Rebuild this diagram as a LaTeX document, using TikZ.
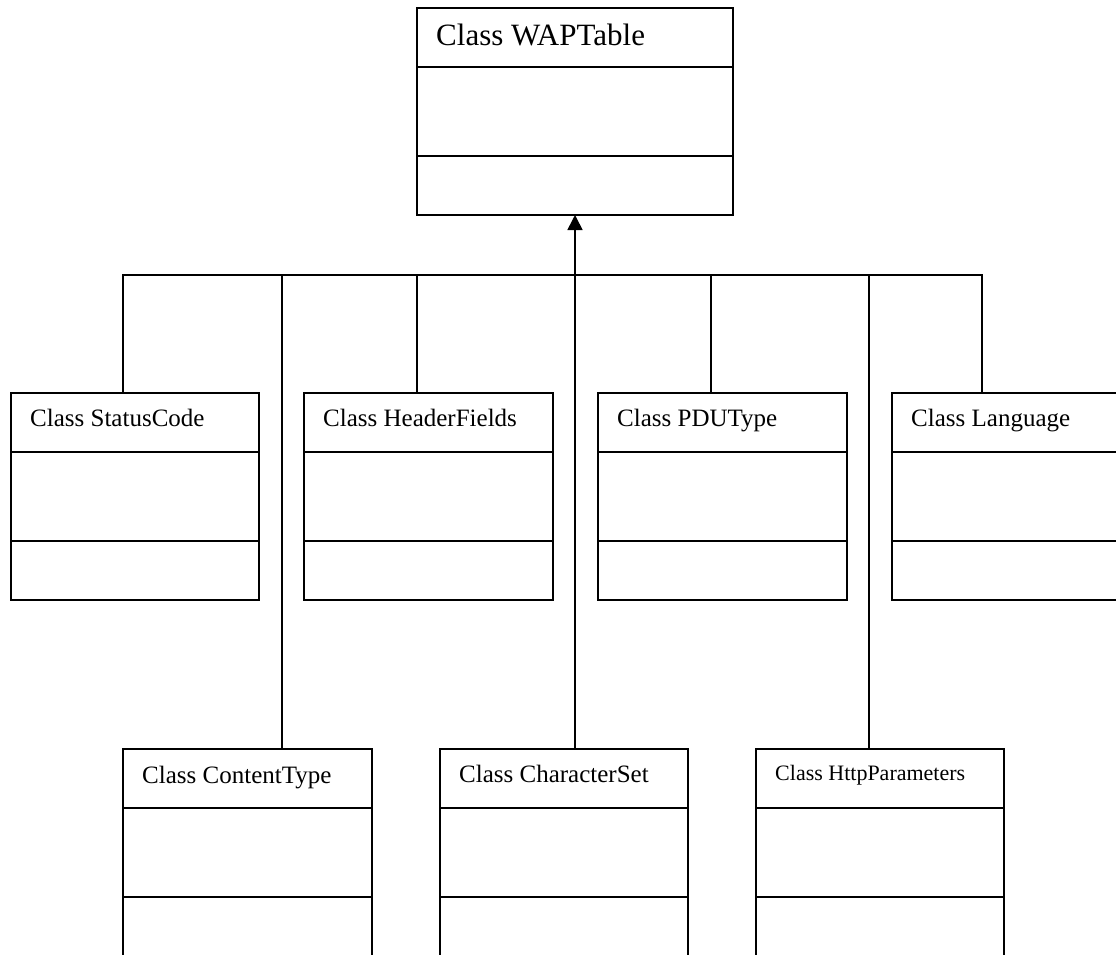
\documentclass[tikz,border=0pt]{standalone}
\usepackage{fontspec}
\setmainfont{Liberation Serif}
\usetikzlibrary{arrows.meta}

% One UML class: name, left x, top y, width, font size, baseline drop, title
\newcommand\classbox[7]{%
  \node[classframe, minimum width=#4pt, anchor=north west] (#1) at (#2,#3) {};
  \draw[frameline] ([yshift=-59pt]#1.north west) -- ([yshift=-59pt]#1.north east);
  \draw[frameline] ([yshift=-148pt]#1.north west) -- ([yshift=-148pt]#1.north east);
  \node[anchor=base west, inner sep=0pt, font=\fontsize{#5}{#5}\selectfont]
    (#1-title) at ([xshift=19pt,yshift=-#6pt]#1.north west) {#7};
}

\begin{document}
\begin{tikzpicture}[x=1pt, y=-1pt,
  frameline/.style={line width=1.6pt, black},
  classframe/.style={draw, frameline, rectangle, inner sep=0pt, outer sep=0pt,
    minimum height=207pt},
  link/.style={line width=1.6pt, black},
  inherit/.style={link, -{Triangle[width=15pt,length=15pt]}}]
  \useasboundingbox (0,0) rectangle (1116,955);
  \clip (0,0) rectangle (1116,955);

  % superclass
  \classbox{wap}{417}{8}{316}{31}{38}{Class WAPTable}

  % first row of subclasses
  \classbox{sc}{11}{393}{248}{25}{33}{Class StatusCode}
  \classbox{hf}{304}{393}{249}{25}{33}{Class HeaderFields}
  \classbox{pdu}{598}{393}{249}{25}{33}{Class PDUType}
  \classbox{lang}{892}{393}{248}{25}{33}{Class Language}

  % second row of subclasses
  \classbox{ct}{123}{749}{249}{25}{34}{Class ContentType}
  \classbox{cs}{440}{749}{248}{25}{33}{Class CharacterSet}
  \classbox{hp}{756}{749}{248}{22}{31}{Class HttpParameters}

  % inheritance tree
  \coordinate (hub) at (575,275);
  \draw[inherit] (hub) -- (wap.south);
  \draw[link] (hub) -| ([xshift=112pt]sc.north west);
  \draw[link] (hub) -| ([xshift=113pt]hf.north west);
  \draw[link] (hub) -| ([xshift=113pt]pdu.north west);
  \draw[link] (hub) -| ([xshift=90pt]lang.north west);
  \draw[link] (hub) -| ([xshift=159pt]ct.north west);
  \draw[link] (hub) -| ([xshift=135pt]cs.north west);
  \draw[link] (hub) -| ([xshift=113pt]hp.north west);
\end{tikzpicture}
\end{document}
